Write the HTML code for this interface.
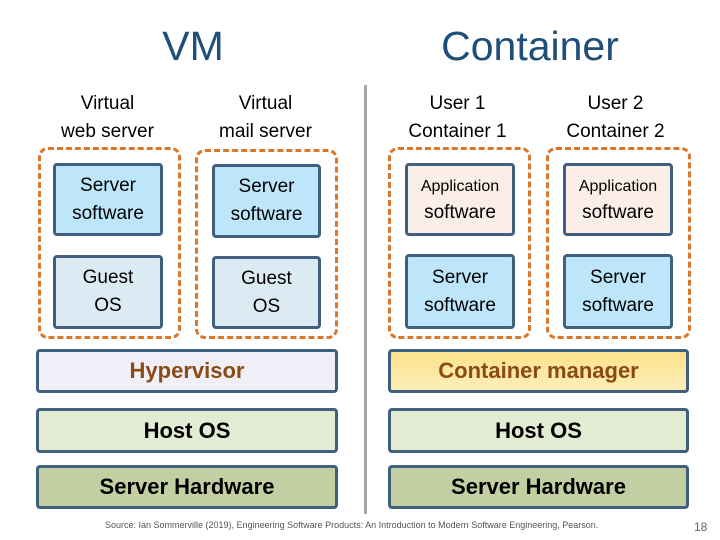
<!DOCTYPE html>
<html><head><style>
body{margin:0;width:720px;height:540px;background:#fff;position:relative;font-family:"Liberation Sans",sans-serif;overflow:hidden}
.a{position:absolute;box-sizing:border-box;display:flex;align-items:center;justify-content:center;text-align:center}
.t{color:#1f4e79;font-size:41px}
.l{color:#000;font-size:19px;line-height:28px}
.d{border:3px dashed #d9782d;border-radius:10px}
.b{border:3px solid #41607f;border-radius:4px;font-size:19px;line-height:28px;color:#000}
.ss{background:#bde6fb}
.go{background:#dcebf3}
.ap{background:#fbeee6}
.bar{border:3px solid #41607f;border-radius:4px;font-size:22px;font-weight:bold;color:#000}
</style></head><body>
<div class="a t" style="left:130px;top:22px;width:126px;height:48px">VM</div>
<div class="a t" style="left:410px;top:22px;width:240px;height:48px">Container</div>

<div class="a l" style="left:30px;top:90px;width:155px;height:56px">Virtual<br>web server</div>
<div class="a l" style="left:188px;top:90px;width:155px;height:56px">Virtual<br>mail server</div>
<div class="a l" style="left:380px;top:90px;width:155px;height:56px">User 1<br>Container 1</div>
<div class="a l" style="left:538px;top:90px;width:155px;height:56px">User 2<br>Container 2</div>

<div class="a d" style="left:38px;top:147px;width:143px;height:192px"></div>
<div class="a d" style="left:195px;top:149px;width:143px;height:190px"></div>
<div class="a d" style="left:388px;top:147px;width:143px;height:192px"></div>
<div class="a d" style="left:546px;top:147px;width:145px;height:192px"></div>

<div class="a b ss" style="left:53px;top:163px;width:110px;height:73px">Server<br>software</div>
<div class="a b go" style="left:53px;top:255px;width:110px;height:74px">Guest<br>OS</div>
<div class="a b ss" style="left:212px;top:164px;width:109px;height:74px">Server<br>software</div>
<div class="a b go" style="left:212px;top:256px;width:109px;height:73px">Guest<br>OS</div>

<div class="a b ap" style="left:405px;top:163px;width:110px;height:73px;line-height:26px"><span><span style="font-size:16px">Application</span><br>software</span></div>
<div class="a b ss" style="left:405px;top:254px;width:110px;height:75px">Server<br>software</div>
<div class="a b ap" style="left:563px;top:163px;width:110px;height:73px;line-height:26px"><span><span style="font-size:16px">Application</span><br>software</span></div>
<div class="a b ss" style="left:563px;top:254px;width:110px;height:75px">Server<br>software</div>

<div class="a bar" style="left:36px;top:349px;width:302px;height:44px;background:#f0eff7;color:#8b4a14">Hypervisor</div>
<div class="a bar" style="left:388px;top:349px;width:301px;height:44px;background:linear-gradient(#fde28c,#fdeeb8);color:#8b4a14">Container manager</div>
<div class="a bar" style="left:36px;top:408px;width:302px;height:45px;background:#e3ebd3">Host OS</div>
<div class="a bar" style="left:388px;top:408px;width:301px;height:45px;background:#e3ebd3">Host OS</div>
<div class="a bar" style="left:36px;top:465px;width:302px;height:44px;background:#c3cfa3">Server Hardware</div>
<div class="a bar" style="left:388px;top:465px;width:301px;height:44px;background:#c3cfa3">Server Hardware</div>

<div style="position:absolute;left:364px;top:85px;width:3px;height:429px;background:#a6a6a6"></div>

<div style="position:absolute;left:105px;top:520px;font-size:9px;color:#555;white-space:nowrap">Source: Ian Sommerville (2019), Engineering Software Products: An Introduction to Modern Software Engineering, Pearson.</div>
<div style="position:absolute;left:694px;top:520px;font-size:12px;color:#666">18</div>
</body></html>
